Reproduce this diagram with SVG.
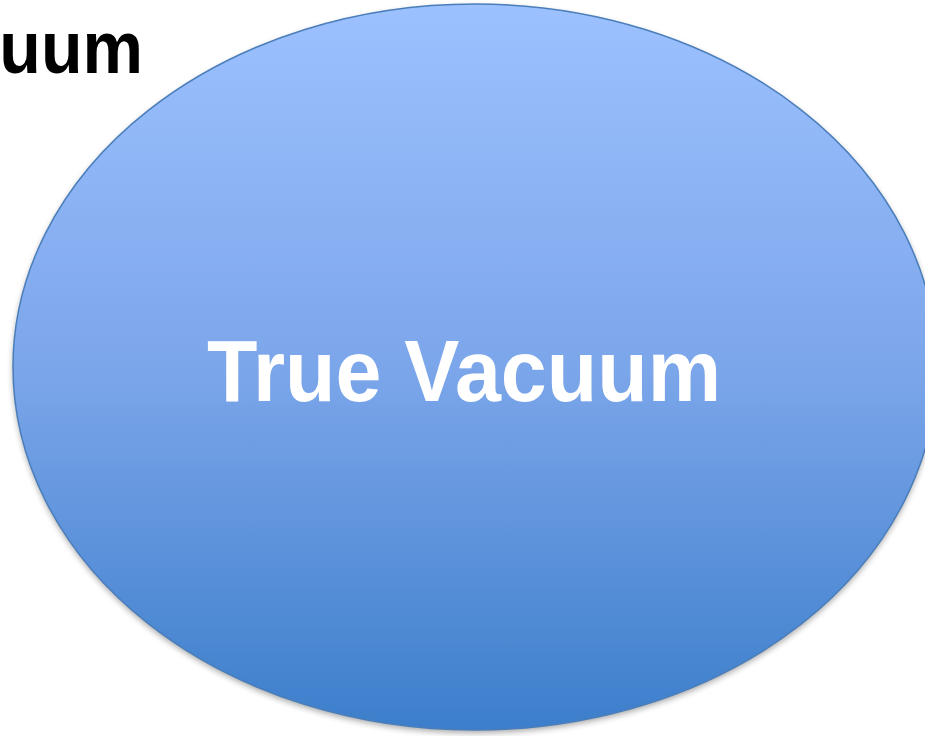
<svg xmlns="http://www.w3.org/2000/svg" width="925" height="736" viewBox="0 0 925 736">
  <defs>
    <linearGradient id="fill" x1="0" y1="0" x2="0" y2="1">
      <stop offset="0" stop-color="#9DC1FF"/>
      <stop offset="0.5" stop-color="#7CA6EA"/>
      <stop offset="1" stop-color="#3C7ECB"/>
    </linearGradient>
    <filter id="shadow" x="-10%" y="-10%" width="120%" height="120%">
      <feGaussianBlur stdDeviation="3"/>
    </filter>
  </defs>
  <style>
    .title { font-family: "Liberation Sans", Arial, sans-serif; font-weight: bold; fill: #000000; }
    .label { font-family: "Liberation Sans", Arial, sans-serif; font-weight: bold; fill: #FFFFFF; }
  </style>
  <rect x="0" y="0" width="925" height="736" fill="#FFFFFF"/>
  <g id="title">
    <text class="title" font-size="74" text-anchor="end" transform="translate(143,73) scale(0.92,1)">uum</text>
  </g>
  <g id="true-vacuum">
    <ellipse cx="475" cy="370" rx="462" ry="363" fill="#000000" opacity="0.35" filter="url(#shadow)"/>
    <ellipse cx="475" cy="367" rx="462" ry="363" fill="url(#fill)" stroke="#4A7EBB" stroke-width="1.5"/>
    <text class="label" font-size="86.5" transform="translate(207,401) scale(0.955,1)">True Vacuum</text>
  </g>
  <g id="connectors"/>
</svg>
